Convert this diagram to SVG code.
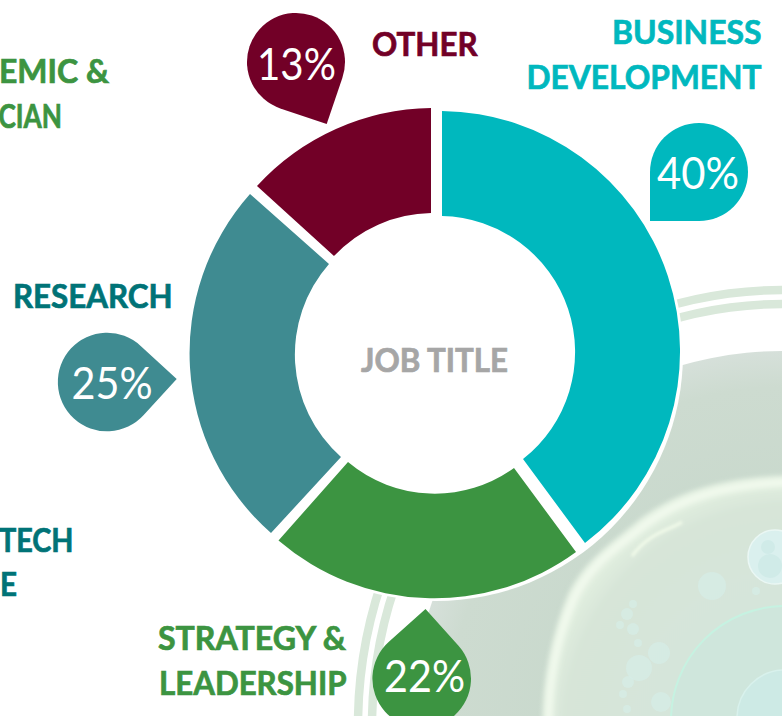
<svg xmlns="http://www.w3.org/2000/svg" width="782" height="716" viewBox="0 0 782 716">
  <style>
    .lbl { font-family: "Lato", "Liberation Sans", sans-serif; font-weight: 700; font-size: 32px; stroke-width: .7px; }
    .pct { font-family: "Lato", "Liberation Sans", sans-serif; font-weight: 400; font-size: 45px; fill: #ffffff; }
    .teal { fill: #00B8BE; }
    .slate { fill: #3F8B91; }
    .green { fill: #3C9441; }
    .maroon { fill: #720027; }
    .dark { fill: #007377; }
    .gray { fill: #a6a6a6; }
    .lbl.teal { stroke: #00B8BE; }
    .lbl.green { stroke: #3C9441; }
    .lbl.maroon { stroke: #720027; }
    .lbl.dark { stroke: #007377; }
    .lbl.gray { stroke: #a6a6a6; }
    .ring { fill: none; stroke: #d9e8da; stroke-width: 8.5; }
    .bub { fill: #d6eee9; fill-opacity: .6; }
  </style>
  <defs>
    <radialGradient id="disk" gradientUnits="userSpaceOnUse" cx="783" cy="722" r="372">
      <stop offset="0.6" stop-color="#c9d9cd"/>
      <stop offset="0.9" stop-color="#cddbd0"/>
      <stop offset="1" stop-color="#d6e0da"/>
    </radialGradient>
    <radialGradient id="cell" gradientUnits="userSpaceOnUse" cx="790" cy="730" r="250">
      <stop offset="0.5" stop-color="#d5e5da"/>
      <stop offset="0.9" stop-color="#d7e5d8"/>
      <stop offset="1" stop-color="#e2efe0"/>
    </radialGradient>
    <filter id="blur6" x="-20%" y="-20%" width="140%" height="140%"><feGaussianBlur stdDeviation="3"/></filter>
    <filter id="blur3" x="-20%" y="-20%" width="140%" height="140%"><feGaussianBlur stdDeviation="2.5"/></filter>
    <filter id="blur2" x="-20%" y="-20%" width="140%" height="140%"><feGaussianBlur stdDeviation="1.5"/></filter>
  </defs>

  <rect width="782" height="716" fill="#ffffff"/>

  <g id="background">
    <ellipse class="ring" cx="783" cy="725" rx="425" ry="435"/>
    <ellipse class="ring" cx="783" cy="725" rx="411" ry="421"/>
    <circle cx="783" cy="722" r="371" fill="url(#disk)"/>
    <path d="M543 740 C541 690 550 640 568 595 C585 560 610 545 640 519 C670 497 710 478 782 476 L810 476 L810 740 Z" fill="url(#cell)" filter="url(#blur3)"/>
    <path d="M549 740 C547 690 556 640 574 598 C591 563 616 548 646 524 C676 502 716 485 790 482" fill="none" stroke="#f4fcf0" stroke-width="7" filter="url(#blur6)"/>
    <path d="M632 556 C650 532 670 530 682 522" fill="none" stroke="#f2fbea" stroke-width="3" filter="url(#blur2)"/>
    <circle cx="785" cy="720" r="114" fill="#cfe6dc" stroke="#c6f2e1" stroke-width="2"/>
    <circle cx="785" cy="718" r="48" fill="#cdeae5" stroke="#d8f1ec" stroke-width="1.5"/>
    <circle cx="775" cy="557" r="27" fill="#daf0ee" stroke="#eaf7f4" stroke-width="1.5"/>
    <circle cx="768" cy="547" r="7" fill="#d0ebe8"/>
    <circle cx="770" cy="566" r="12" fill="#d0ebe8"/>
    <circle class="bub" cx="712" cy="586" r="14"/>
    <circle class="bub" cx="756" cy="591" r="4"/>
    <circle class="bub" cx="633" cy="604" r="4"/>
    <circle class="bub" cx="627" cy="614" r="6"/>
    <circle class="bub" cx="620" cy="625" r="4"/>
    <circle class="bub" cx="633" cy="629" r="6"/>
    <circle class="bub" cx="638" cy="643" r="4"/>
    <circle class="bub" cx="659" cy="653" r="11"/>
    <circle class="bub" cx="639" cy="668" r="13"/>
    <circle class="bub" cx="661" cy="702" r="10"/>
    <circle class="bub" cx="628" cy="682" r="6"/>
    <circle class="bub" cx="623" cy="694" r="4"/>
    <circle class="bub" cx="627" cy="709" r="4"/>
    <circle cx="436" cy="354" r="247" fill="#ffffff"/>
  </g>

  <g id="segment-business">
    <path class="teal" d="M442 111 A240.5 240.5 0 0 1 585 543 L523 459 A136 136 0 0 0 442 216 Z"/>
  </g>
  <g id="segment-strategy">
    <path class="green" d="M576 552 A239.5 239.5 0 0 1 278.5 540.5 L348 462 A135 135 0 0 0 514 468 Z"/>
  </g>
  <g id="segment-research">
    <path class="slate" d="M271 533 A239.5 239.5 0 0 1 250 194 L329 264 A137 137 0 0 0 341 457 Z"/>
  </g>
  <g id="segment-other">
    <path class="maroon" d="M257 186 A240 240 0 0 1 431 108 L431 213 A136 136 0 0 0 334 256 Z"/>
  </g>

  <g id="center-label">
    <text class="lbl gray" x="361" y="371.5" textLength="147" lengthAdjust="spacingAndGlyphs">JOB TITLE</text>
  </g>

  <g id="callout-business">
    <path class="teal" d="M650 221 V172 A49 49 0 1 1 699 221 Z"/>
    <text class="pct" x="657" y="188.5" textLength="82" lengthAdjust="spacingAndGlyphs">40%</text>
    <text class="lbl teal" x="612" y="43.5" textLength="149.5" lengthAdjust="spacingAndGlyphs">BUSINESS</text>
    <text class="lbl teal" x="526.5" y="88.5" textLength="235" lengthAdjust="spacingAndGlyphs">DEVELOPMENT</text>
  </g>
  <g id="callout-other">
    <path class="maroon" d="M326.7 124 L280.3 108.4 A49 49 0 1 1 342.4 77.7 Z"/>
    <text class="pct" x="257" y="79.5" textLength="79" lengthAdjust="spacingAndGlyphs">13%</text>
    <text class="lbl maroon" x="372" y="55.5" textLength="105.5" lengthAdjust="spacingAndGlyphs">OTHER</text>
  </g>
  <g id="callout-research">
    <path class="slate" d="M176.7 379 L143.7 415.1 A49.3 49.3 0 1 1 140.7 345.9 Z"/>
    <text class="pct" x="71.5" y="398.5" textLength="81" lengthAdjust="spacingAndGlyphs">25%</text>
    <text class="lbl dark" x="13" y="307.5" textLength="159.5" lengthAdjust="spacingAndGlyphs">RESEARCH</text>
  </g>
  <g id="callout-strategy">
    <path class="green" d="M425.5 609 L458.5 645.8 A49.3 49.3 0 1 1 388.9 641.8 Z"/>
    <text class="pct" x="384" y="691.5" textLength="81" lengthAdjust="spacingAndGlyphs">22%</text>
    <text class="lbl green" x="158" y="650" textLength="188" lengthAdjust="spacingAndGlyphs">STRATEGY &amp;</text>
    <text class="lbl green" x="159" y="695" textLength="187.5" lengthAdjust="spacingAndGlyphs">LEADERSHIP</text>
  </g>
  <g id="label-academic">
    <text class="lbl green" x="-1" y="83" textLength="110" lengthAdjust="spacingAndGlyphs">EMIC &amp;</text>
    <text class="lbl green" x="-1.5" y="127.5" textLength="63.5" lengthAdjust="spacingAndGlyphs">CIAN</text>
  </g>
  <g id="label-biotech">
    <text class="lbl dark" x="-1" y="551.5" textLength="74.5" lengthAdjust="spacingAndGlyphs">TECH</text>
    <text class="lbl dark" x="0" y="596" textLength="17" lengthAdjust="spacingAndGlyphs">E</text>
  </g>
</svg>
